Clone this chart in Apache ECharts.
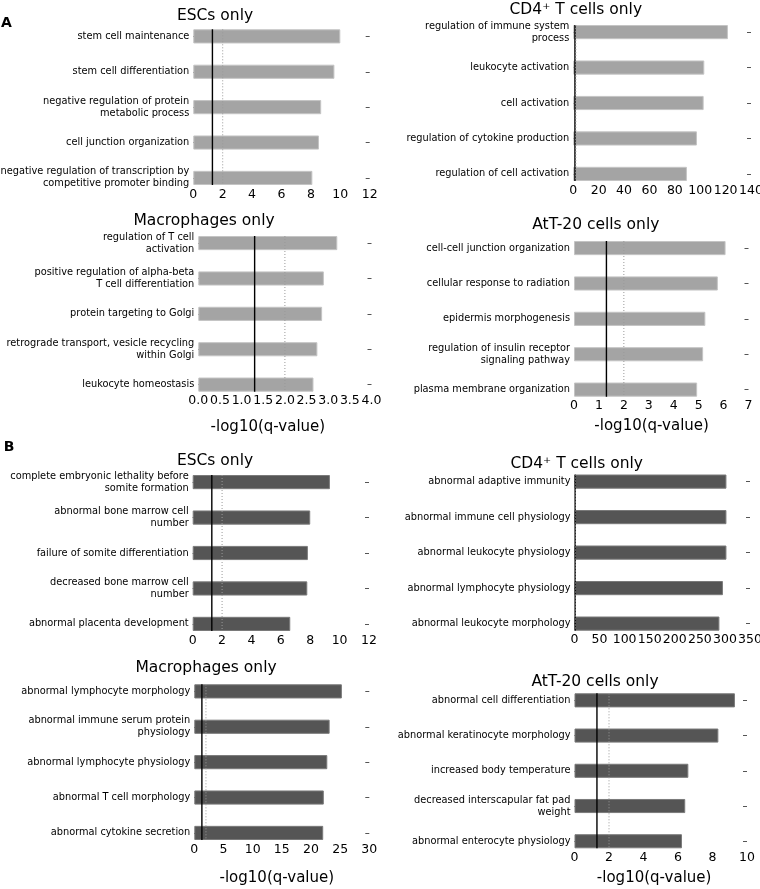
<!DOCTYPE html>
<html><head><meta charset="utf-8">
<script src="https://cdn.jsdelivr.net/npm/echarts@6/dist/echarts.min.js"></script>
<style>html,body{margin:0;padding:0;background:#fff}#c{width:760px;height:889px}</style>
</head><body><div id="c"></div>
<script>
// ---- Panel A (GO terms) ----
const aEscTerms = ['stem cell maintenance','stem cell differentiation','negative regulation of protein\nmetabolic process','cell junction organization','negative regulation of transcription by\ncompetitive promoter binding'];
const aEscValues = [10.0, 9.6, 8.7, 8.55, 8.1];
const aCd4Terms = ['regulation of immune system\nprocess','leukocyte activation','cell activation','regulation of cytokine production','regulation of cell activation'];
const aCd4Values = [121.8, 103.2, 102.7, 97.4, 89.5];
const aMacTerms = ['regulation of T cell\nactivation','positive regulation of alpha-beta\nT cell differentiation','protein targeting to Golgi','retrograde transport, vesicle recycling\nwithin Golgi','leukocyte homeostasis'];
const aMacValues = [3.21, 2.90, 2.86, 2.75, 2.66];
const aAtt20Terms = ['cell-cell junction organization','cellular response to radiation','epidermis morphogenesis','regulation of insulin receptor\nsignaling pathway','plasma membrane organization'];
const aAtt20Values = [6.08, 5.77, 5.27, 5.18, 4.94];
// ---- Panel B (MP terms) ----
const bEscTerms = ['complete embryonic lethality before\nsomite formation','abnormal bone marrow cell\nnumber','failure of somite differentiation','decreased bone marrow cell\nnumber','abnormal placenta development'];
const bEscValues = [9.34, 8.0, 7.84, 7.8, 6.64];
const bCd4Terms = ['abnormal adaptive immunity','abnormal immune cell physiology','abnormal leukocyte physiology','abnormal lymphocyte physiology','abnormal leukocyte morphology'];
const bCd4Values = [303, 303, 303, 296, 289];
const bMacTerms = ['abnormal lymphocyte morphology','abnormal immune serum protein\nphysiology','abnormal lymphocyte physiology','abnormal T cell morphology','abnormal cytokine secretion'];
const bMacValues = [25.3, 23.2, 22.8, 22.2, 22.1];
const bAtt20Terms = ['abnormal cell differentiation','abnormal keratinocyte morphology','increased body temperature','decreased interscapular fat pad\nweight','abnormal enterocyte physiology'];
const bAtt20Values = [9.3, 8.34, 6.6, 6.42, 6.23];

const panelTitles = ['ESCs only','CD4\u207A T cells only','Macrophages only','AtT-20 cells only','ESCs only','CD4\u207A T cells only','Macrophages only','AtT-20 cells only'];
const axisMax = [12, 140, 4, 7, 12, 350, 30, 10];
const axisInterval = [2, 20, 0.5, 1, 2, 50, 5, 2];
const axisDecimals = [0, 0, 1, 0, 0, 0, 0, 0];
const thresholds = [1.301, 2]; // -log10(0.05) solid, -log10(0.01) dotted
const axisTitle = '-log10(q-value)';
const sectionLetters = ['A', 'B'];

const termsList = [aEscTerms, aCd4Terms, aMacTerms, aAtt20Terms, bEscTerms, bCd4Terms, bMacTerms, bAtt20Terms];
const valuesList = [aEscValues, aCd4Values, aMacValues, aAtt20Values, bEscValues, bCd4Values, bMacValues, bAtt20Values];

// ---- layout (pixels) ----
const layouts = [
  {left:193.3, width:176.4, barTop:29.3,  barBottom:185,   tx:215,   ty:16},
  {left:573.3, width:177.7, barTop:25,    barBottom:181,   tx:575.8, ty:9.5},
  {left:198.3, width:173.2, barTop:236,   barBottom:391.7, tx:204,   ty:221,   nameGap:27.5, shift:-17},
  {left:574,   width:174.5, barTop:241,   barBottom:396.7, tx:595.8, ty:224.5, nameGap:21.6, shift:-9.6},
  {left:192.7, width:176.3, barTop:475,   barBottom:631,   tx:215,   ty:460.5},
  {left:574.5, width:175.5, barTop:474.5, barBottom:630.7, tx:576.7, ty:464.3},
  {left:194.3, width:175,   barTop:684.3, barBottom:840,   tx:206,   ty:667.8, nameGap:30.5, shift:-5},
  {left:574.5, width:172.5, barTop:693.3, barBottom:848.3, tx:595,   ty:681.8, nameGap:22,   shift:-6.6}
];
const FONT = '"DejaVu Sans", sans-serif';
const BAR_FRAC = 0.4;

const grid = [], xAxis = [], yAxis = [], series = [], graphic = [];
layouts.forEach((L, i) => {
  const band = (L.barBottom - L.barTop) / (4 + BAR_FRAC);
  const pad = band * (1 - BAR_FRAC) / 2;
  grid.push({left: L.left, top: L.barTop - pad, width: L.width, height: band * 5,
    containLabel: false, outerBoundsMode: 'none'});
  const dec = axisDecimals[i];
  const xa = {
    type: 'value', gridIndex: i, min: 0, max: axisMax[i], interval: axisInterval[i],
    offset: -pad,
    axisLine: {show: false}, axisTick: {show: false}, splitLine: {show: false},
    axisLabel: {fontSize: 12.5, color: '#000', fontFamily: FONT, margin: 3,
      showMinLabel: true, showMaxLabel: true, hideOverlap: false,
      formatter: v => v.toFixed(dec)}
  };
  if (L.nameGap !== undefined) {
    xa.name = axisTitle; xa.nameLocation = 'middle'; xa.nameGap = L.nameGap;
    xa.nameTextStyle = {fontSize: 15, color: '#000', fontFamily: FONT,
      padding: L.shift < 0 ? [0, -2 * L.shift, 0, 0] : [0, 0, 0, 2 * L.shift]};
  }
  xAxis.push(xa);
  const isA = i < 4;
  yAxis.push({
    type: 'category', gridIndex: i, data: termsList[i], inverse: true, position: 'left',
    axisLine: {show: false},
    axisTick: {show: true, inside: true, length: 4, alignWithLabel: true, lineStyle: {color: '#222', width: 1}},
    axisLabel: {fontSize: 9.8, color: '#000', fontFamily: FONT, margin: 4, lineHeight: 12, align: 'right', interval: 0},
    splitLine: {show: false}
  });
  yAxis.push({
    type: 'category', gridIndex: i, data: termsList[i], inverse: true, position: 'right',
    axisLine: {show: false},
    axisTick: {show: true, inside: true, length: 4, alignWithLabel: true, lineStyle: {color: '#555', width: 1}},
    axisLabel: {show: false}, splitLine: {show: false}
  });
  yAxis.push({type: 'value', gridIndex: i, min: -0.5, max: 4.5, inverse: true, show: false, splitLine: {show: false}});
  series.push({
    type: 'bar', xAxisIndex: i, yAxisIndex: 3 * i, data: valuesList[i],
    barWidth: (BAR_FRAC * 100) + '%', silent: true, animation: false,
    itemStyle: isA ? {color: '#a4a4a4', borderColor: '#c4c4c4', borderWidth: 1}
                   : {color: '#555555', borderColor: '#7a7a7a', borderWidth: 1}
  });
  thresholds.forEach((t, k) => {
    series.push({
      type: 'line', xAxisIndex: i, yAxisIndex: 3 * i + 2, z: 5,
      data: [[t, -BAR_FRAC / 2], [t, 4 + BAR_FRAC / 2]],
      showSymbol: false, symbol: 'none', silent: true, animation: false,
      lineStyle: k === 0 ? {color: '#000', width: 1.4, type: 'solid'} : {color: '#999', width: 1, type: [1, 2]}
    });
  });
  graphic.push({type: 'text', x: L.tx, y: L.ty, silent: true,
    style: {text: panelTitles[i], fill: '#000', font: '15.5px ' + FONT, textAlign: 'center', textVerticalAlign: 'middle'}});
});
graphic.push({type: 'text', x: 6.5, y: 23.5, style: {text: sectionLetters[0], fill: '#000', font: 'bold 14px ' + FONT, textAlign: 'center', textVerticalAlign: 'middle'}});
graphic.push({type: 'text', x: 9, y: 447, style: {text: sectionLetters[1], fill: '#000', font: 'bold 14px ' + FONT, textAlign: 'center', textVerticalAlign: 'middle'}});

const chart = echarts.init(document.getElementById('c'), null, {renderer: 'canvas'});
chart.setOption({backgroundColor: '#fff', animation: false, grid, xAxis, yAxis, series, graphic});
</script></body></html>
